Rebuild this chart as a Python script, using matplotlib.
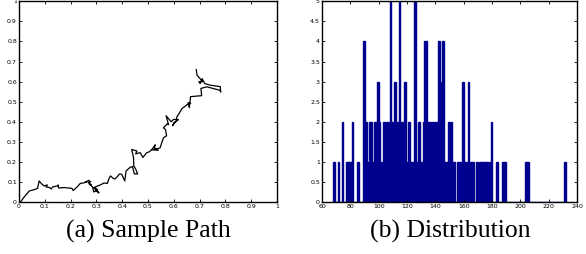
import numpy as np
import matplotlib
matplotlib.use("Agg")
import matplotlib.pyplot as plt

# (a) sample path
path_x = [0.006, 0.02, 0.04, 0.06, 0.072, 0.078, 0.088, 0.097, 0.11, 0.105, 0.118, 0.125, 0.13,
          0.148, 0.152, 0.153, 0.175, 0.205, 0.21, 0.225, 0.238, 0.25, 0.262, 0.255, 0.27, 0.278,
          0.268, 0.28, 0.272, 0.285, 0.29, 0.305, 0.295, 0.31, 0.3, 0.29, 0.315, 0.33, 0.342, 0.35,
          0.355, 0.365, 0.372, 0.38, 0.39, 0.398, 0.41, 0.415, 0.43, 0.44, 0.447, 0.46, 0.452,
          0.445, 0.444, 0.437, 0.457, 0.452, 0.47, 0.48, 0.495, 0.505, 0.515, 0.528, 0.525, 0.54,
          0.515, 0.535, 0.547, 0.552, 0.56, 0.572, 0.568, 0.56, 0.575, 0.58, 0.57, 0.59, 0.6, 0.618,
          0.6, 0.595, 0.61, 0.612, 0.62, 0.632, 0.645, 0.65, 0.665, 0.655, 0.66, 0.665, 0.708,
          0.705, 0.728, 0.778, 0.782, 0.78, 0.742, 0.72, 0.71, 0.702, 0.697, 0.712, 0.69, 0.687]
path_y = [0.0, 0.025, 0.055, 0.062, 0.068, 0.105, 0.09, 0.08, 0.085, 0.075, 0.072, 0.065, 0.075,
          0.08, 0.085, 0.07, 0.072, 0.068, 0.057, 0.075, 0.093, 0.095, 0.1, 0.097, 0.108, 0.1,
          0.098, 0.085, 0.09, 0.075, 0.05, 0.06, 0.07, 0.045, 0.055, 0.072, 0.085, 0.095, 0.092, 0.12,
          0.13, 0.118, 0.115, 0.125, 0.14, 0.138, 0.105, 0.155, 0.172, 0.177, 0.14, 0.14, 0.165,
          0.18, 0.22, 0.262, 0.254, 0.24, 0.246, 0.222, 0.246, 0.25, 0.262, 0.285, 0.27, 0.258,
          0.26, 0.265, 0.27, 0.29, 0.32, 0.33, 0.36, 0.37, 0.39, 0.385, 0.43, 0.4, 0.412, 0.41,
          0.395, 0.38, 0.405, 0.425, 0.44, 0.466, 0.478, 0.484, 0.492, 0.495, 0.47, 0.525, 0.53,
          0.566, 0.574, 0.557, 0.548, 0.575, 0.582, 0.59, 0.615, 0.59, 0.6, 0.6, 0.632, 0.66]

# (b) distribution: counts per integer value
hist_counts = {
    68: 1, 71: 1, 74: 2, 77: 1, 78: 1, 79: 1, 80: 1, 81: 2, 85: 1,
    89: 4, 90: 2, 91: 2, 92: 1, 93: 2, 94: 2, 95: 1, 97: 2, 98: 2, 99: 3, 100: 2, 101: 1,
    103: 2, 104: 2, 105: 1, 106: 2, 107: 1, 108: 5, 109: 2, 110: 1, 111: 3, 112: 1, 113: 2,
    114: 5, 115: 1, 116: 2, 117: 1, 118: 3, 119: 1, 120: 1, 121: 2, 122: 1, 123: 1, 124: 1,
    125: 5, 126: 1, 127: 1, 128: 2, 130: 1, 131: 2, 132: 4, 133: 4, 134: 2, 135: 2, 136: 1,
    137: 2, 138: 2, 139: 1, 140: 2, 141: 2, 142: 4, 143: 3, 145: 4, 146: 1, 147: 1, 148: 1,
    149: 2, 150: 1, 151: 2, 152: 1, 153: 1, 155: 1, 156: 1, 157: 1, 159: 3, 160: 1, 161: 1,
    163: 3, 164: 1, 165: 1, 166: 1, 169: 1, 171: 1, 172: 1, 173: 1, 174: 1, 175: 1, 176: 1,
    178: 1, 179: 2, 183: 1, 187: 1, 188: 1, 189: 1, 203: 1, 204: 1, 205: 1, 231: 1,
}
bin_left = np.arange(68, 232)
counts = np.array([hist_counts.get(v, 0) for v in bin_left])

captions = ["(a) Sample Path", "(b) Distribution"]
navy = "#00008f"

fig = plt.figure(figsize=(5.86, 2.54), dpi=100)
ax1 = fig.add_axes([0.0324, 0.2047, 0.4403, 0.79])
ax2 = fig.add_axes([0.5495, 0.2047, 0.4352, 0.79])

ax1.plot(path_x, path_y, color="k", lw=0.9)
ax1.set_xlim(0, 1)
ax1.set_ylim(0, 1)
ticks = np.round(np.arange(0, 1.01, 0.1), 1)
ax1.set_xticks(ticks)
ax1.set_yticks(ticks)
ax1.set_xticklabels(["0" if t == 0 else ("1" if t == 1 else str(t)) for t in ticks])
ax1.set_yticklabels(["0" if t == 0 else ("1" if t == 1 else str(t)) for t in ticks])

ax2.bar(bin_left, counts, width=1, align="edge", color=navy, edgecolor=navy, lw=1.0)
ax2.set_xlim(60, 240)
ax2.set_ylim(0, 5)
ax2.set_xticks(np.arange(60, 241, 20))
yt = np.arange(0, 5.01, 0.5)
ax2.set_yticks(yt)
ax2.set_yticklabels([f"{v:g}" for v in yt])

for ax in (ax1, ax2):
    ax.tick_params(direction="in", length=2.5, width=0.6, labelsize=4.5, pad=1.5,
                   top=True, right=True)
    for s in ax.spines.values():
        s.set_linewidth(1.0)

for xc, txt in zip([148 / 586, 450 / 586], captions):
    fig.text(xc, 0.09, txt, ha="center", va="center", fontsize=18.5,
             family="Liberation Serif")

fig.savefig("out.png", dpi=100)
